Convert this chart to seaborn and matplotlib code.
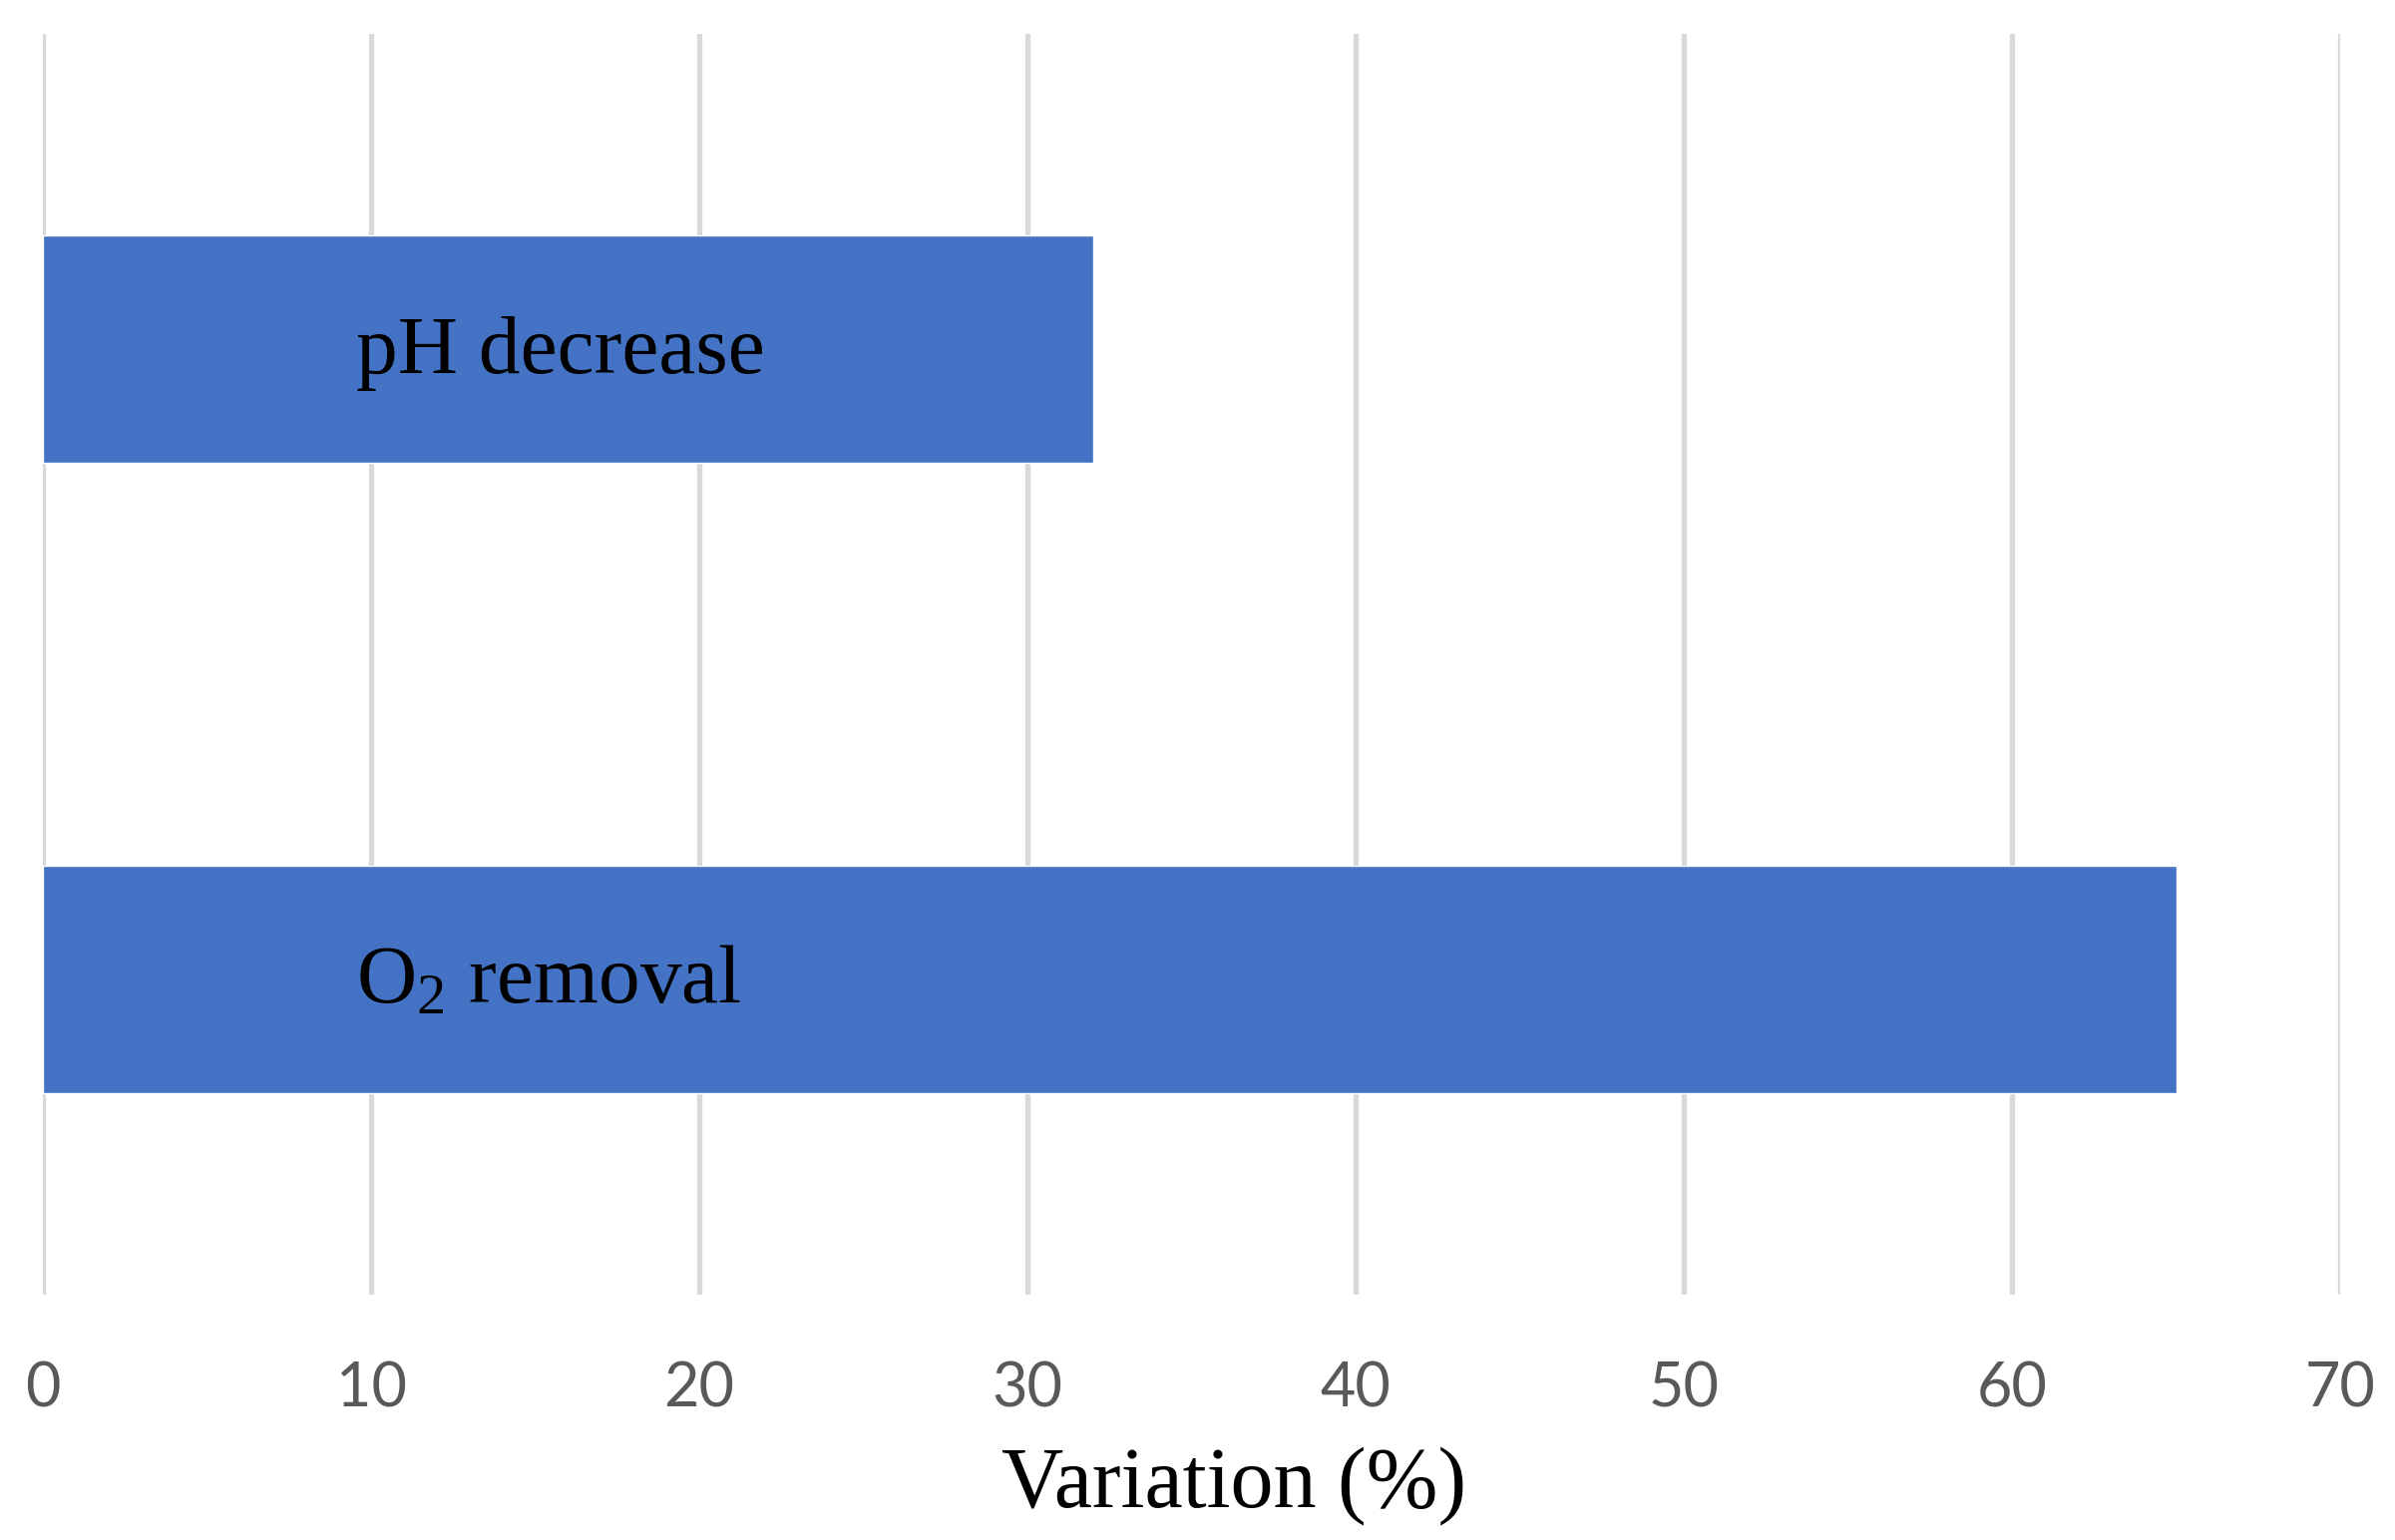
import matplotlib
matplotlib.use("Agg")
import matplotlib.pyplot as plt
import seaborn as sns
import pandas as pd

categories = ["pH decrease", "O$_\\mathrm{2}$ removal"]
values = [32, 65]
xticks = [0, 10, 20, 30, 40, 50, 60, 70]
xlabel = "Variation (%)"

sns.set_theme(style="white")
plt.rcParams["mathtext.fontset"] = "custom"
plt.rcParams["mathtext.rm"] = "Liberation Serif"
plt.rcParams["mathtext.it"] = "Liberation Serif:italic"
plt.rcParams["mathtext.bf"] = "Liberation Serif:bold"

df = pd.DataFrame({"cat": categories, "val": values})

W, H = 2401, 1544
fig = plt.figure(figsize=(W / 100, H / 100), dpi=100)
ax = fig.add_axes([43 / W, 1 - 1298 / H, (2346 - 43) / W, (1298 - 34) / H])

ax.set_axisbelow(True)
ax.xaxis.grid(True, color="#d9d9d9", linewidth=3.8)
ax.yaxis.grid(False)

sns.barplot(data=df, x="val", y="cat", orient="h", color="#4472C4",
            saturation=1, width=0.36, ax=ax)

ax.set_xlim(0, 70)
ax.set_ylim(1.5, -0.5)
ax.set_xticks(xticks)
ax.set_xticklabels([str(t) for t in xticks], fontsize=44, color="#595959",
                   fontfamily="Lato")
ax.tick_params(axis="x", length=0, pad=48)
ax.set_yticks([])
ax.set_ylabel("")
ax.set_xlabel("")
for s in ax.spines.values():
    s.set_visible(False)

fig.text(1237 / W, 1 - 1510 / H, xlabel, fontsize=62,
         fontfamily="Liberation Serif", color="black",
         ha="center", va="baseline")

for i, c in enumerate(categories):
    ax.annotate(c, xy=(9.55, i), xytext=(0, -17), textcoords="offset points",
                fontsize=60, fontfamily="Liberation Serif", color="black",
                va="baseline", ha="left")

fig.savefig("out.png", dpi=100)
